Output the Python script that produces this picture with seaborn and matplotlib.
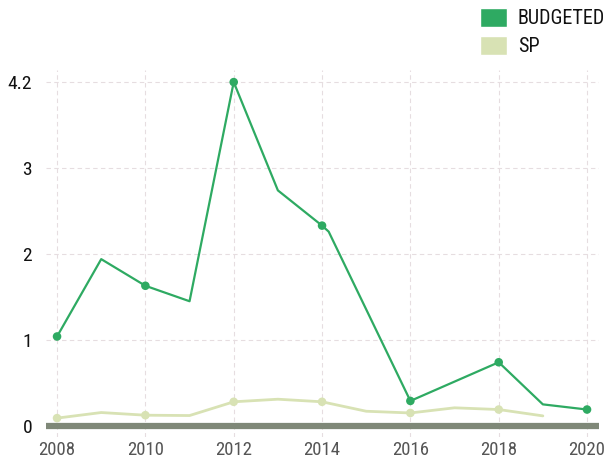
import pandas as pd
import numpy as np
import matplotlib
matplotlib.use('Agg')
import matplotlib.pyplot as plt
import seaborn as sns
from matplotlib.patches import Patch
from matplotlib import font_manager

# ── Data ──────────────────────────────────────────────────────────
budget_years = [2008, 2009, 2010, 2011, 2012, 2013, 2014, 2014.15, 2016, 2018, 2019, 2020]
budget_vals  = [1.04, 1.94, 1.63, 1.45, 4.0, 2.74, 2.33, 2.26, 0.29, 0.74, 0.25, 0.19]

sp_years = [2008, 2009, 2010, 2011, 2012, 2013, 2014, 2015, 2016, 2017, 2018, 2019]
sp_vals  = [0.09, 0.155, 0.124, 0.12, 0.28, 0.31, 0.28, 0.17, 0.15, 0.21, 0.19, 0.116]

x_ticks = [2008, 2010, 2012, 2014, 2016, 2018, 2020]
y_ticks = [0, 1, 2, 3, 4]
y_labels = ['0', '1', '2', '3', '4.2']

GREEN = '#2eaa62'
KHAKI = '#d8e2b4'

budget = pd.DataFrame({'year': budget_years, 'value': budget_vals})
sp = pd.DataFrame({'year': sp_years, 'value': sp_vals})

# ── Font: pick a narrow face if one is installed ──────────────────
names = {f.name for f in font_manager.fontManager.ttflist}
narrow = [n for n in ['Liberation Sans Narrow', 'Roboto Condensed', 'Open Sans Condensed',
                      'DejaVu Sans Condensed'] if n in names]

sns.set_style('white')
plt.rcParams['font.family'] = narrow + ['DejaVu Sans']
plt.rcParams['font.stretch'] = 'condensed'

fig = plt.figure(figsize=(6.11, 4.61), dpi=100)
ax = fig.add_axes([0.0753, 0.052, 0.905, 0.796])

for y in y_ticks:
    ax.axhline(y, color='#e6dde0', lw=0.8, ls=(0, (4, 3)), zorder=0)
for x in x_ticks:
    ax.axvline(x, color='#e6dde0', lw=0.8, ls=(0, (4, 3)), zorder=0)

sns.lineplot(data=sp, x='year', y='value', color=KHAKI, lw=2, sort=False,
             estimator=None, ax=ax, zorder=2)
sns.lineplot(data=budget, x='year', y='value', color=GREEN, lw=1.6, sort=False,
             estimator=None, ax=ax, zorder=3)

# markers only on the even years
sp_even = sp[sp['year'] % 2 == 0]
bud_even = budget[budget['year'] % 2 == 0]
sns.scatterplot(data=sp_even, x='year', y='value', color=KHAKI, s=38,
                edgecolor='none', ax=ax, zorder=2)
sns.scatterplot(data=bud_even, x='year', y='value', color=GREEN, s=38,
                edgecolor='none', ax=ax, zorder=3)

ax.axhline(0, color='#7f8878', lw=4.5, zorder=4)

ax.set_xlim(2007.75, 2020.27)
ax.set_ylim(-0.13, 4.14)
ax.set_xticks(x_ticks)
ax.set_xticklabels([str(t) for t in x_ticks])
ax.set_yticks(y_ticks)
ax.set_yticklabels(y_labels)
ax.tick_params(axis='x', length=0, pad=3, labelsize=13.5, labelcolor='#555555')
ax.tick_params(axis='y', length=0, pad=10, labelsize=14, labelcolor='#111111')
ax.set_xlabel('')
ax.set_ylabel('')
for s in ax.spines.values():
    s.set_visible(False)

handles = [Patch(facecolor=GREEN, label='BUDGETED'),
           Patch(facecolor=KHAKI, label='SP')]
fig.legend(handles=handles, loc='upper right', bbox_to_anchor=(1.02, 1.022),
           frameon=False, fontsize=14.5, handlelength=1.35, handleheight=1.05,
           handletextpad=0.55, labelspacing=0.4, labelcolor='#111111')

plt.savefig('out.png', dpi=100)
